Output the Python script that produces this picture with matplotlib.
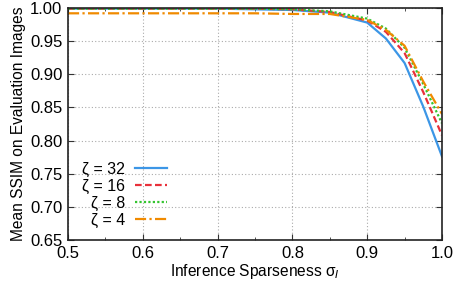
import matplotlib
matplotlib.use("Agg")
import matplotlib.pyplot as plt
from matplotlib.ticker import MultipleLocator

plt.rcParams['font.family'] = ['Liberation Sans', 'DejaVu Sans']

x = [0.5, 0.55, 0.6, 0.65, 0.7, 0.75, 0.8, 0.85, 0.9, 0.925, 0.95, 0.975, 1.0]
ssim_32 = [0.999, 0.999, 0.999, 0.999, 0.999, 0.998, 0.997, 0.993, 0.978, 0.954, 0.917, 0.851, 0.776]
ssim_16 = [0.999, 0.999, 0.999, 0.999, 0.999, 0.999, 0.998, 0.994, 0.981, 0.964, 0.932, 0.873, 0.808]
ssim_8 = [0.999, 0.999, 0.999, 0.999, 0.999, 0.999, 0.998, 0.995, 0.984, 0.969, 0.940, 0.885, 0.826]
ssim_4 = [0.992, 0.992, 0.992, 0.992, 0.992, 0.992, 0.991, 0.991, 0.982, 0.967, 0.943, 0.889, 0.840]

labels = ["ζ = 32", "ζ = 16", "ζ = 8", "ζ = 4"]
colors = ["#3c96e6", "#e8303a", "#33c42f", "#f08a00"]
styles = ["-", (0, (3, 1.5)), (0, (1, 1)), (0, (5, 1.5, 1, 1.5))]

fig = plt.figure(figsize=(4.58, 2.85), dpi=100)
ax = fig.add_axes([68/458, 45/285, 374/458, 232/285])

for ys, lab, c, ls in zip([ssim_32, ssim_16, ssim_8, ssim_4], labels, colors, styles):
    ax.plot(x, ys, color=c, linestyle=ls, linewidth=1.6, label=lab)

ax.set_xlim(0.5, 1.0)
ax.set_ylim(0.65, 1.0)
ax.xaxis.set_major_locator(MultipleLocator(0.1))
ax.xaxis.set_minor_locator(MultipleLocator(0.05))
ax.yaxis.set_major_locator(MultipleLocator(0.05))
ax.xaxis.set_major_formatter(matplotlib.ticker.FormatStrFormatter('%.1f'))
ax.yaxis.set_major_formatter(matplotlib.ticker.FormatStrFormatter('%.2f'))
ax.tick_params(which='both', direction='in', top=True, right=True, labelsize=12, color='#333333')
ax.tick_params(which='major', length=4, pad=4)
ax.tick_params(which='minor', length=2.5)
ax.grid(True, which='major', linestyle=(0, (1, 2)), color='#aaaaaa', linewidth=0.8)
for s in ax.spines.values():
    s.set_linewidth(1.2)
    s.set_color('#222222')

ax.set_xlabel("Inference Sparseness σ$_I$", fontsize=11.2, labelpad=1)
ax.set_ylabel("Mean SSIM on Evaluation Images", fontsize=11.2, labelpad=3)

leg = ax.legend(loc='lower left', bbox_to_anchor=(0.0, -0.01), frameon=False,
                markerfirst=False, fontsize=11.5, handlelength=2.0,
                labelspacing=0.12, handletextpad=0.6)
for t in leg.get_texts():
    t.set_ha('right')
leg._legend_box.align = "right"

fig.savefig("out.png", dpi=100)
